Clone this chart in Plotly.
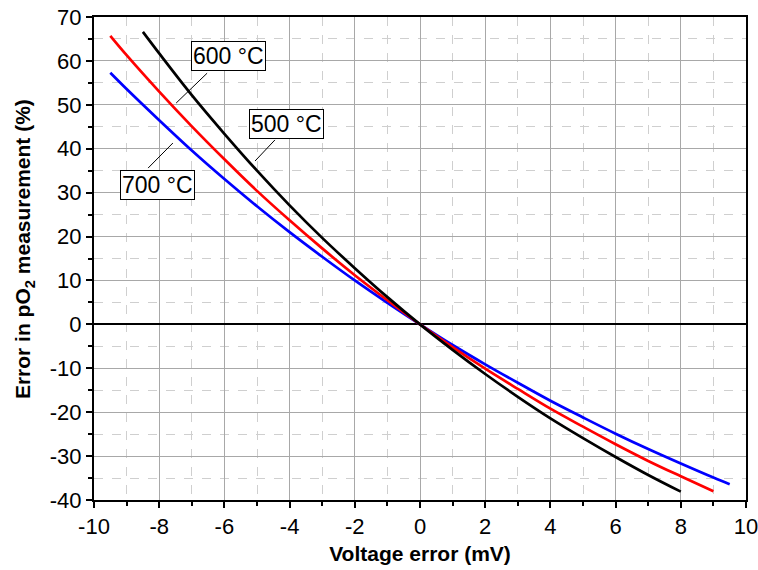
import plotly.graph_objects as go

# Voltage error (mV) and error in pO2 measurement (%)
v_500 = [-8.5, -8, -7, -6, -5, -4, -3, -2, -1, 0, 1, 2, 3, 4, 5, 6, 7, 8]
e_500 = [66.6, 61.7, 52.2, 43.4, 35.0, 27.1, 19.7, 12.8, 6.2, 0, -5.8, -11.3, -16.5, -21.4, -25.9, -30.2, -34.3, -38.1]

v_600 = [-9.5, -9, -8, -7, -6, -5, -4, -3, -2, -1, 0, 1, 2, 3, 4, 5, 6, 7, 8, 9]
e_600 = [65.7, 61.3, 53.0, 45.1, 37.6, 30.4, 23.7, 17.3, 11.2, 5.5, 0, -5.2, -10.1, -14.7, -19.2, -23.3, -27.3, -31.1, -34.6, -38.0]

v_700 = [-9.5, -9, -8, -7, -6, -5, -4, -3, -2, -1, 0, 1, 2, 3, 4, 5, 6, 7, 8, 9, 9.5]
e_700 = [57.3, 53.6, 46.5, 39.6, 33.1, 26.9, 21.0, 15.4, 10.0, 4.9, 0, -4.7, -9.1, -13.3, -17.4, -21.2, -24.9, -28.4, -31.7, -34.9, -36.4]

x_ticks = [-10, -8, -6, -4, -2, 0, 2, 4, 6, 8, 10]
x_tick_text = ["-10", "-8", "-6", "-4", "-2", "0", "2", "4", "6", "8", "10"]
y_ticks = [-40, -30, -20, -10, 0, 10, 20, 30, 40, 50, 60, 70]
y_tick_text = ["-40", "-30", "-20", "-10", "0", "10", "20", "30", "40", "50", "60", "70"]

labels = ["500 °C", "600 °C", "700 °C"]
label_pos = [(-4.11, 45.6), (-5.86, 61.1), (-8.04, 31.7)]
leaders = [((-4.45, 42.0), (-5.06, 37.2)), ((-6.53, 57.2), (-7.48, 50.4)), ((-8.34, 35.6), (-7.58, 41.3))]

FONT = "Liberation Sans, Arial, sans-serif"

fig = go.Figure()
for v, e, c in [(v_700, e_700, "#0000ff"), (v_600, e_600, "#ff0000"), (v_500, e_500, "#000000")]:
    fig.add_trace(go.Scatter(x=v, y=e, mode="lines", line=dict(color=c, width=2.7, shape="spline"),
                             showlegend=False, hoverinfo="skip"))

for (p0, p1) in leaders:
    fig.add_shape(type="line", x0=p0[0], y0=p0[1], x1=p1[0], y1=p1[1],
                  line=dict(color="black", width=1), xref="x", yref="y")

for t, (x, y) in zip(labels, label_pos):
    fig.add_annotation(x=x, y=y, text=t, showarrow=False, xref="x", yref="y",
                       font=dict(family=FONT, size=23, color="black"),
                       bgcolor="white", bordercolor="black", borderwidth=1, borderpad=1)

# y-axis title as rotated annotation
fig.add_annotation(x=-0.107, y=0.52, xref="paper", yref="paper", textangle=-90,
                   text="<b>Error in pO<sub>2</sub> measurement (%)</b>", showarrow=False,
                   xanchor="center", yanchor="middle",
                   font=dict(family=FONT, size=21, color="black"))

axis_common = dict(
    showline=True, linecolor="black", linewidth=2, mirror=True, automargin=False,
    ticklabeloverflow="allow",
    ticks="outside", ticklen=6, tickwidth=1.5, tickcolor="black",
    showgrid=True, gridcolor="#a8a8a8", gridwidth=1,
    tickfont=dict(family=FONT, size=22, color="black"),
)

fig.update_xaxes(
    range=[-10, 10], tickvals=x_ticks, ticktext=x_tick_text, zeroline=False,
    minor=dict(dtick=1, showgrid=True, gridcolor="#cfcfcf", griddash="dash", gridwidth=1,
               ticks="outside", ticklen=4, tickcolor="black", tickwidth=1.5),
    title=dict(text="<b>Voltage error (mV)</b>", font=dict(family=FONT, size=21, color="black"), standoff=8),
    **axis_common,
)
fig.update_yaxes(
    range=[-40, 70], tickvals=y_ticks, ticktext=y_tick_text, zeroline=True, zerolinecolor="black", zerolinewidth=2,
    minor=dict(dtick=5, showgrid=True, gridcolor="#cfcfcf", griddash="dash", gridwidth=1,
               ticks="outside", ticklen=4, tickcolor="black", tickwidth=1.5),
    **axis_common,
)

fig.update_layout(
    width=758, height=570,
    margin=dict(l=94, r=12, t=17, b=70),
    plot_bgcolor="white", paper_bgcolor="white",
)

fig.write_html("out.html")
